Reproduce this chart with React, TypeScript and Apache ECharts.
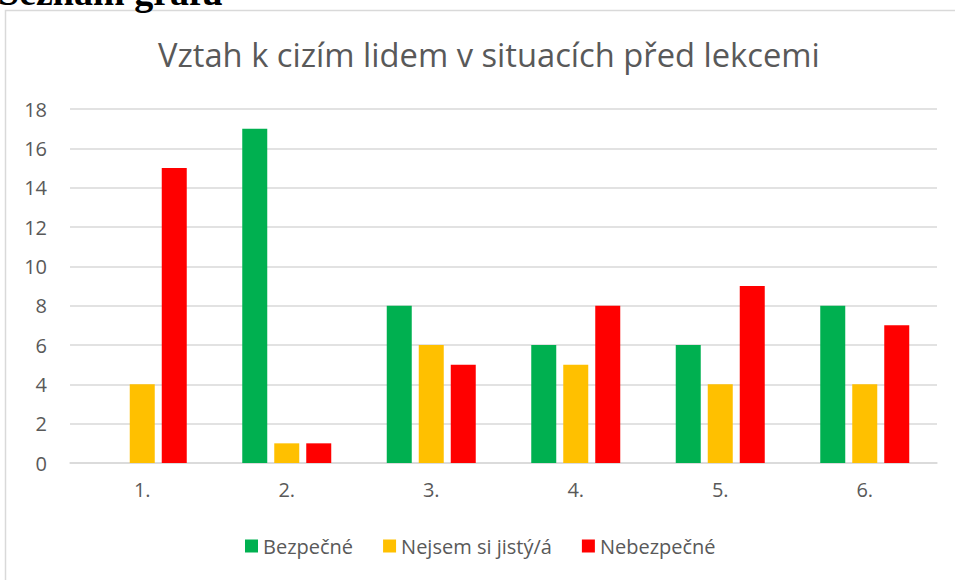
import React, { useEffect, useRef } from "react";
import * as echarts from "echarts";

const categories = ["1.", "2.", "3.", "4.", "5.", "6."];
const safe = [0, 17, 8, 6, 6, 8];
const unsure = [4, 1, 6, 5, 4, 4];
const unsafe = [15, 1, 5, 8, 9, 7];
const seriesNames = ["Bezpečné", "Nejsem si jistý/á", "Nebezpečné"];
const titleText = "Vztah k cizím lidem v situacích před lekcemi";
const headingText = "Seznam grafů";

export default function App() {
  const ref = useRef<HTMLDivElement>(null);
  useEffect(() => {
    if (!ref.current) return;
    const chart = echarts.init(ref.current, null, { renderer: "svg" });
    const font = "'Open Sans', 'Noto Sans', sans-serif";
    const mk = (name: string, data: number[], color: string) => ({
      name,
      type: "bar",
      data,
      barWidth: 25,
      barGap: "28%",
      itemStyle: { color },
    });
    chart.setOption({
      animation: false,
      backgroundColor: "#ffffff",
      title: {
        text: titleText,
        left: 153,
        top: 33,
        textStyle: { fontFamily: font, fontSize: 32.7, fontWeight: "normal", color: "#595959" },
      },
      graphic: [
        {
          type: "rect",
          shape: { x: 5.5, y: 10.5, width: 1000, height: 1000 },
          style: { fill: "none", stroke: "#D9D9D9", lineWidth: 1.5 },
          silent: true,
        },
        {
          type: "text",
          x: -2,
          y: -8,
          style: {
            text: headingText,
            font: "bold 38px 'Liberation Serif', serif",
            fill: "#000000",
            textVerticalAlign: "middle",
          },
        },
      ],
      legend: {
        bottom: 19,
        left: 240,
        itemWidth: 13,
        itemHeight: 13,
        itemGap: 30,
        icon: "rect",
        textStyle: { fontFamily: font, fontSize: 20, color: "#595959" },
        data: seriesNames,
      },
      grid: { left: 70, right: 18, top: 109, bottom: 117 },
      xAxis: {
        type: "category",
        data: categories,
        axisLine: { lineStyle: { color: "#D9D9D9", width: 1.5 } },
        axisTick: { show: false },
        axisLabel: { fontFamily: font, fontSize: 20, color: "#595959", margin: 16 },
      },
      yAxis: {
        type: "value",
        min: 0,
        max: 18,
        interval: 2,
        axisLine: { show: false },
        axisTick: { show: false },
        splitLine: { lineStyle: { color: "#D9D9D9", width: 1.5 } },
        axisLabel: { fontFamily: font, fontSize: 20, color: "#595959", margin: 23 },
      },
      series: [
        mk(seriesNames[0], safe, "#00B050"),
        mk(seriesNames[1], unsure, "#FFC000"),
        mk(seriesNames[2], unsafe, "#FF0000"),
      ],
    });
    return () => chart.dispose();
  }, []);
  return (
    <div
      ref={ref}
      style={{ position: "fixed", left: 0, top: 0, width: 955, height: 580, background: "#fff" }}
    />
  );
}
